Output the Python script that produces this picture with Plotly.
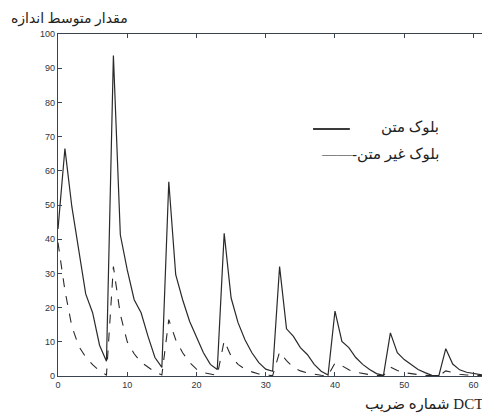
import plotly.graph_objects as go

coef_index = list(range(64))

text_block = [43, 66.5, 49.5, 37, 24, 18.5, 9, 4.3,
              93.7, 41.3, 31, 22.3, 18.5, 11.6, 5.4, 2.5,
              56.8, 29.6, 22.3, 16, 11.6, 6.8, 3.4, 1.9,
              41.7, 22.8, 15.6, 10.6, 6.8, 3.9, 2.0, 1.4,
              32, 13.8, 11.6, 8.3, 6.3, 3.4, 1.4, 0.3,
              19, 10.1, 8.3, 5.4, 3.4, 1.9, 0.7, 0.2,
              12.6, 6.8, 4.8, 3.4, 1.9, 1.0, 0.2, 0.1,
              8.0, 3.5, 1.8, 1.1, 0.7, 0.3, 0.1, 0]

nontext_block = [39, 25, 14.5, 8.7, 5.5, 3.3, 1.5, 0.3,
                 32, 18, 10, 6.5, 4, 2.5, 1.2, 0.3,
                 16.5, 10.6, 6.8, 4, 2, 1, 0.5, 0.2,
                 10.3, 5.8, 3.4, 2, 1.2, 0.6, 0.3, 0.1,
                 7, 4.5, 2.5, 1.5, 0.9, 0.5, 0.2, 0.1,
                 3.8, 3.0, 1.8, 1.1, 0.7, 0.4, 0.2, 0.1,
                 2.6, 1.6, 1.0, 0.6, 0.4, 0.2, 0.1, 0,
                 1.5, 0.9, 0.5, 0.3, 0.2, 0.1, 0, 0]

x_ticks = [0, 10, 20, 30, 40, 50, 60]
y_ticks = [0, 10, 20, 30, 40, 50, 60, 70, 80, 90, 100]

legend_text = "بلوک متن"
legend_nontext = "——-بلوک غیر متن"
y_title = "مقدار متوسط اندازه"
x_title = "شماره ضریب DCT"

fa_font = "Liberation Serif, DejaVu Serif, DejaVu Sans, serif"

fig = go.Figure()
fig.add_trace(go.Scatter(x=coef_index, y=text_block, mode="lines",
                         line=dict(color="#2a2a2a", width=1.2),
                         name=legend_text, showlegend=False))
fig.add_trace(go.Scatter(x=coef_index, y=nontext_block, mode="lines",
                         line=dict(color="#2a2a2a", width=1.1, dash="dash"),
                         name=legend_nontext, showlegend=False))

axis_common = dict(showgrid=False, zeroline=False, showline=True, automargin=False,
                   linecolor="#3a4450", linewidth=1.2, mirror="ticks",
                   ticks="inside", ticklen=4, tickcolor="#3a4450",
                   tickfont=dict(family="Liberation Sans, Arial, sans-serif",
                                 size=9, color="#2c3440"))

fig.update_xaxes(range=[0, 62.53], tickvals=x_ticks, **axis_common)
fig.update_yaxes(range=[0, 100], tickvals=y_ticks, **axis_common)

# legend drawn as text + line sample
fig.add_shape(type="line", xref="paper", yref="paper",
              x0=0.589, x1=0.674, y0=0.722, y1=0.722,
              line=dict(color="#3a3a3a", width=2))
fig.add_annotation(text=legend_text, xref="paper", yref="paper",
                   x=0.884, y=0.728, xanchor="right", yanchor="middle",
                   showarrow=False, font=dict(family=fa_font, size=15, color="#222"))
fig.add_annotation(text=legend_nontext, xref="paper", yref="paper",
                   x=0.884, y=0.648, xanchor="right", yanchor="middle",
                   showarrow=False, font=dict(family=fa_font, size=15, color="#222"))

fig.add_annotation(text=y_title, xref="paper", yref="paper",
                   x=-0.114, y=1.045, xanchor="left", yanchor="middle",
                   showarrow=False, font=dict(family=fa_font, size=14, color="#222"))
fig.add_annotation(text=x_title, xref="paper", yref="paper",
                   x=0.986, y=-0.083, xanchor="right", yanchor="middle",
                   showarrow=False, font=dict(family=fa_font, size=15, color="#222"))

# page body has an 8px default margin; size the figure so the axes land where the reference has them
fig.update_layout(width=483, height=409,
                  margin=dict(l=50, r=0, t=25.5, b=40.5, autoexpand=False),
                  plot_bgcolor="white", paper_bgcolor="white")

fig.write_html("out.html")
